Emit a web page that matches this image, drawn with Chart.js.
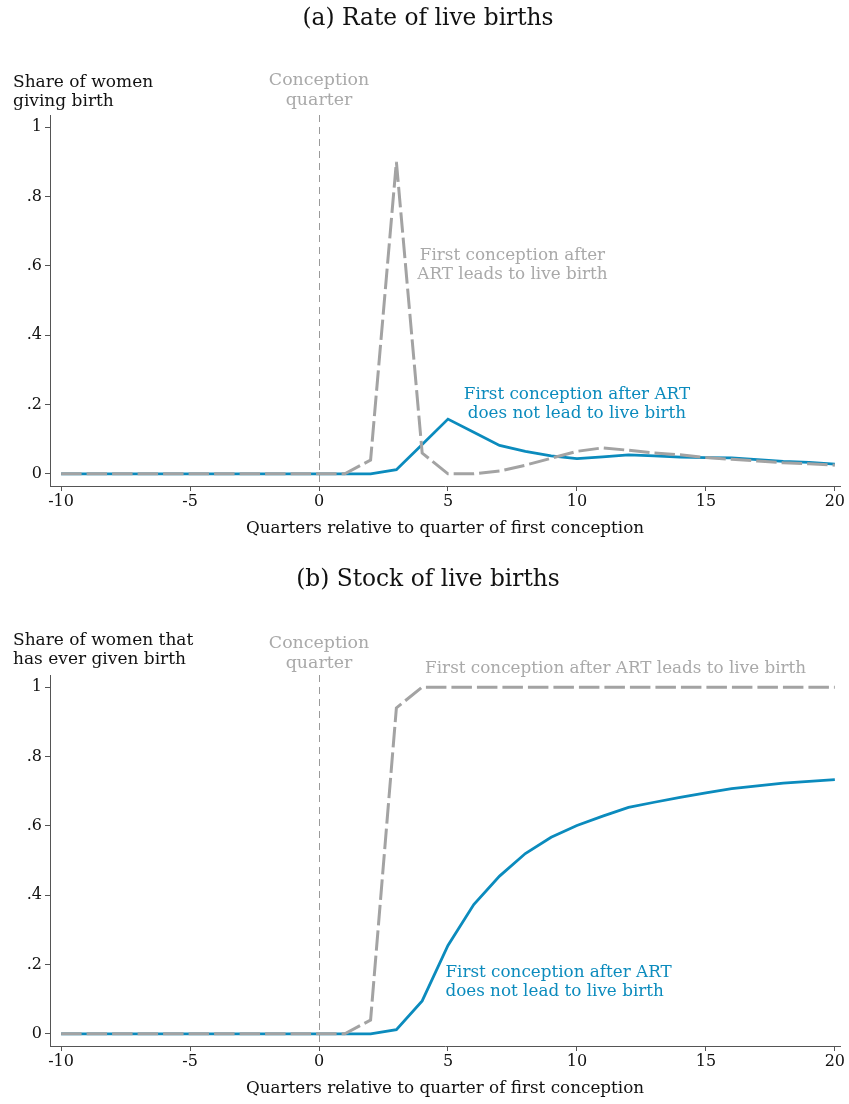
<!DOCTYPE html>
<html>
<head>
<meta charset="utf-8">
<script src="https://cdn.jsdelivr.net/npm/chart.js@4/dist/chart.umd.min.js"></script>
<style>
  html, body { margin: 0; padding: 0; background: #fff; }
  body { width: 849px; height: 1104px; position: relative; overflow: hidden; }
  .panel { position: absolute; left: 0; width: 849px; height: 552px; }
  #panelA { top: 0; }
  #panelB { top: 560px; }
</style>
</head>
<body>
<div class="panel" id="panelA"><canvas id="rateChart"></canvas></div>
<div class="panel" id="panelB"><canvas id="stockChart"></canvas></div>
<script>
// Quarters relative to the quarter of first conception
const quarters = [-10, -9, -8, -7, -6, -5, -4, -3, -2, -1, 0, 1, 2, 3, 4, 5, 6, 7, 8, 9, 10,
                  11, 12, 13, 14, 15, 16, 17, 18, 19, 20];

// (a) Rate of live births
const rateLiveBirth = [0, 0, 0, 0, 0, 0, 0, 0, 0, 0, 0, 0, 0.04, 0.90, 0.06, 0.0, 0.0, 0.008, 0.025, 0.045, 0.065,
                       0.075, 0.068, 0.060, 0.055, 0.047, 0.042, 0.037, 0.032, 0.029, 0.025];
const rateNoLiveBirth = [0, 0, 0, 0, 0, 0, 0, 0, 0, 0, 0, 0, 0.0, 0.012, 0.085, 0.158, 0.12, 0.082, 0.065, 0.052, 0.044,
                         0.049, 0.055, 0.052, 0.048, 0.047, 0.046, 0.041, 0.036, 0.033, 0.028];

// (b) Stock of live births
const stockLiveBirth = [0, 0, 0, 0, 0, 0, 0, 0, 0, 0, 0, 0, 0.04, 0.94, 1.0, 1.0, 1.0, 1.0, 1.0, 1.0, 1.0,
                        1.0, 1.0, 1.0, 1.0, 1.0, 1.0, 1.0, 1.0, 1.0, 1.0];
const stockNoLiveBirth = [0, 0, 0, 0, 0, 0, 0, 0, 0, 0, 0, 0, 0.0, 0.012, 0.095, 0.255, 0.373, 0.455, 0.52, 0.567, 0.601,
                          0.628, 0.653, 0.668, 0.682, 0.695, 0.707, 0.715, 0.723, 0.728, 0.733];

// Axis ticks
const xTickValues = [-10, -5, 0, 5, 10, 15, 20];
const yTickValues = [0, 0.2, 0.4, 0.6, 0.8, 1];
const yTickLabels = ['0', '.2', '.4', '.6', '.8', '1'];

const BLUE = '#0b8bbd';
const GREY_LINE = '#a3a3a3';
const GREY_TEXT = '#a9a9a9';
const SERIF = '"DejaVu Serif", "Liberation Serif", serif';

function points(values) {
  return quarters.map((q, i) => ({ x: q, y: values[i] }));
}

// Text and reference line drawn on top of the chart
const overlayPlugin = {
  id: 'overlay',
  beforeDatasetsDraw(chart, args, opts) {
    const { ctx, chartArea, scales } = chart;
    const x0 = Math.round(scales.x.getPixelForValue(0)) + 0.5;
    ctx.save();
    ctx.strokeStyle = '#9a9a9a';
    ctx.lineWidth = 1;
    ctx.setLineDash([7, 5]);
    ctx.beginPath();
    ctx.moveTo(x0, chartArea.top);
    ctx.lineTo(x0, chartArea.bottom);
    ctx.stroke();
    ctx.restore();
  },
  afterDraw(chart, args, opts) {
    const { ctx, scales } = chart;
    ctx.save();
    ctx.textBaseline = 'middle';
    // panel title
    ctx.fillStyle = '#111';
    ctx.font = '23.3px ' + SERIF;
    ctx.textAlign = 'center';
    ctx.fillText(opts.title, 428, opts.titleY);
    // y-axis title
    ctx.font = '17px ' + SERIF;
    ctx.textAlign = 'left';
    opts.yTitle.forEach((t, i) => ctx.fillText(t, 13, opts.yTitleY + i * 19));
    // conception quarter label
    ctx.fillStyle = GREY_TEXT;
    ctx.textAlign = 'center';
    ctx.font = '17.4px ' + SERIF;
    const xc = scales.x.getPixelForValue(0);
    ['Conception', 'quarter'].forEach((t, i) => ctx.fillText(t, xc, opts.cqY + i * 20));
    // series labels
    ctx.font = '16.8px ' + SERIF;
    opts.labels.forEach(l => {
      ctx.fillStyle = l.color;
      ctx.textAlign = l.align;
      const px = scales.x.getPixelForValue(l.x);
      const py = scales.y.getPixelForValue(l.y);
      l.lines.forEach((t, i) => ctx.fillText(t, px, py + i * 19));
    });
    ctx.restore();
  }
};

function makeChart(canvasId, liveVals, noLiveVals, overlay) {
  return new Chart(document.getElementById(canvasId), {
    type: 'line',
    data: {
      datasets: [
        {
          data: points(noLiveVals),
          borderColor: BLUE,
          borderWidth: 2.8,
          pointRadius: 0,
          tension: 0,
          order: 2
        },
        {
          data: points(liveVals),
          borderColor: GREY_LINE,
          borderWidth: 3,
          borderDash: [20.5, 5],
          pointRadius: 0,
          tension: 0,
          order: 1
        }
      ]
    },
    options: {
      responsive: true,
      maintainAspectRatio: false,
      animation: false,
      events: [],
      layout: { padding: { top: 115, right: 9, left: 0, bottom: 0 } },
      plugins: {
        legend: { display: false },
        tooltip: { enabled: false },
        overlay: overlay
      },
      scales: {
        x: {
          type: 'linear',
          min: -10.43,
          max: 20.2,
          afterBuildTicks(scale) { scale.ticks = xTickValues.map(v => ({ value: v })); },
          afterFit(scale) { scale.height = 66; },
          ticks: {
            color: '#111',
            font: { family: SERIF, size: 16 },
            padding: 1,
            maxRotation: 0,
            callback: v => String(v)
          },
          grid: { drawOnChartArea: false, drawTicks: true, tickLength: 5, tickColor: '#555' },
          border: { display: true, color: '#555', width: 1 },
          title: {
            display: true,
            text: 'Quarters relative to quarter of first conception',
            color: '#111',
            font: { family: SERIF, size: 16.8 },
            padding: { top: 4, bottom: 13 }
          }
        },
        y: {
          type: 'linear',
          min: -0.035,
          max: 1.035,
          afterBuildTicks(scale) { scale.ticks = yTickValues.map(v => ({ value: v })); },
          afterFit(scale) { scale.width = 50; },
          ticks: {
            color: '#111',
            font: { family: SERIF, size: 16 },
            padding: 3,
            callback: (v) => {
              const i = yTickValues.findIndex(t => Math.abs(t - v) < 1e-9);
              return i >= 0 ? yTickLabels[i] : '';
            }
          },
          grid: { drawOnChartArea: false, drawTicks: true, tickLength: 5, tickColor: '#555' },
          border: { display: true, color: '#555', width: 1 }
        }
      }
    },
    plugins: [overlayPlugin]
  });
}

makeChart('rateChart', rateLiveBirth, rateNoLiveBirth, {
  title: '(a) Rate of live births',
  titleY: 19,
  yTitle: ['Share of women', 'giving birth'],
  yTitleY: 83,
  cqY: 80,
  labels: [
    { color: GREY_TEXT, align: 'center', x: 7.5, y: 0.628, lines: ['First conception after', 'ART leads to live birth'] },
    { color: BLUE, align: 'center', x: 10, y: 0.228, lines: ['First conception after ART', 'does not lead to live birth'] }
  ]
});

makeChart('stockChart', stockLiveBirth, stockNoLiveBirth, {
  title: '(b) Stock of live births',
  titleY: 20,
  yTitle: ['Share of women that', 'has ever given birth'],
  yTitleY: 81,
  cqY: 83,
  labels: [
    { color: GREY_TEXT, align: 'center', x: 11.5, y: 1.052, lines: ['First conception after ART leads to live birth'] },
    { color: BLUE, align: 'left', x: 4.9, y: 0.176, lines: ['First conception after ART', 'does not lead to live birth'] }
  ]
});
</script>
</body>
</html>
